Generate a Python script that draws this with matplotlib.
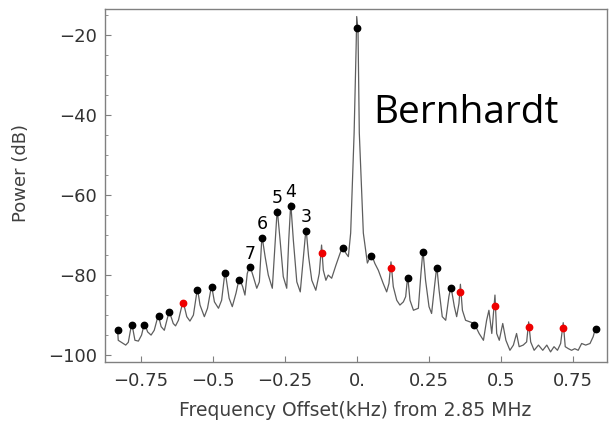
import numpy as np
import matplotlib.pyplot as plt
from matplotlib.ticker import FixedLocator, FixedFormatter, MultipleLocator

# spectrum trace: frequency offset (kHz) and power (dB)
freq = [-0.831, -0.829, -0.803, -0.794, -0.782, -0.771, -0.759, -0.748, -0.738, -0.727,
        -0.715, -0.704, -0.690, -0.680, -0.669, -0.652, -0.638, -0.630, -0.620, -0.604,
        -0.591, -0.580, -0.568, -0.554, -0.545, -0.530, -0.519, -0.505, -0.495, -0.481,
        -0.470, -0.458, -0.444, -0.433, -0.420, -0.409, -0.397, -0.389, -0.381, -0.372,
        -0.360, -0.348, -0.339, -0.330, -0.319, -0.308, -0.294, -0.285, -0.277, -0.267,
        -0.256, -0.244, -0.237, -0.230, -0.221, -0.209, -0.197, -0.188, -0.177, -0.168,
        -0.157, -0.143, -0.131, -0.123, -0.117, -0.108, -0.100, -0.088, -0.073, -0.059,
        -0.050, -0.038, -0.030, -0.022, -0.010, -0.003, -0.001, 0.0035, 0.008, 0.022,
        0.036, 0.050, 0.062, 0.074, 0.091, 0.103, 0.111, 0.118, 0.126, 0.138,
        0.149, 0.161, 0.169, 0.176, 0.184, 0.196, 0.213, 0.222, 0.229, 0.238,
        0.250, 0.259, 0.269, 0.277, 0.285, 0.296, 0.308, 0.319, 0.326, 0.338,
        0.346, 0.354, 0.359, 0.366, 0.377, 0.392, 0.407, 0.424, 0.439, 0.450,
        0.458, 0.468, 0.479, 0.485, 0.494, 0.506, 0.517, 0.531, 0.543, 0.554,
        0.563, 0.577, 0.589, 0.596, 0.603, 0.615, 0.630, 0.645, 0.659, 0.672,
        0.684, 0.696, 0.707, 0.716, 0.723, 0.734, 0.745, 0.756, 0.768, 0.780,
        0.794, 0.809, 0.820, 0.829]
power = [-93.8, -96.3, -97.5, -96.8, -92.0, -96.3, -96.5, -95.0, -92.0, -94.2,
         -95.0, -93.8, -90.0, -92.9, -93.8, -89.0, -92.1, -92.7, -91.3, -86.5,
         -90.4, -91.5, -90.0, -83.3, -87.5, -90.4, -88.3, -82.6, -86.7, -88.3,
         -86.3, -79.0, -85.8, -87.9, -84.5, -80.8, -82.9, -85.0, -79.6, -77.6,
         -80.4, -83.3, -81.7, -70.2, -75.4, -80.0, -83.3, -72.9, -63.5, -71.3,
         -80.4, -83.3, -71.3, -62.0, -71.3, -81.7, -84.2, -77.1, -68.3, -75.4,
         -81.3, -83.8, -79.6, -72.5, -78.8, -81.3, -80.0, -80.8, -77.5, -74.6,
         -73.0, -74.6, -75.4, -69.5, -44.5, -22.9, -15.4, -18.8, -44.5, -69.5,
         -77.0, -74.8, -77.1, -78.8, -82.1, -84.2, -82.1, -76.7, -82.9, -86.3,
         -87.5, -86.7, -85.4, -80.2, -86.3, -88.8, -88.3, -79.6, -73.8, -81.3,
         -87.9, -89.6, -82.9, -77.8, -83.8, -90.4, -91.3, -85.4, -82.8, -87.9,
         -90.4, -87.1, -82.3, -88.8, -91.3, -91.7, -92.1, -94.6, -96.3, -91.3,
         -88.8, -94.6, -85.0, -94.6, -96.3, -92.1, -96.3, -98.8, -97.5, -94.6,
         -97.9, -97.5, -96.7, -91.7, -96.7, -98.8, -97.5, -98.8, -97.5, -99.2,
         -97.9, -98.8, -97.1, -91.9, -97.9, -98.4, -98.8, -98.4, -98.8, -97.1,
         -97.5, -97.1, -95.4, -93.0]

# marked peaks
black_f = [-0.831, -0.782, -0.738, -0.689, -0.652, -0.554, -0.505, -0.458, -0.409, -0.371,
           -0.330, -0.278, -0.230, -0.177, -0.050, 0.000, 0.050, 0.176, 0.229, 0.277,
           0.326, 0.407, 0.829]
black_p = [-93.75, -92.4, -92.4, -90.3, -89.3, -83.8, -83.1, -79.6, -81.25, -78.1,
           -70.8, -64.2, -62.75, -68.9, -73.3, -18.3, -75.2, -80.7, -74.3, -78.2,
           -83.2, -92.5, -93.5]
red_f = [-0.604, -0.123, 0.118, 0.359, 0.479, 0.596, 0.716]
red_p = [-87.1, -74.4, -78.3, -84.3, -87.75, -92.9, -93.3]

# numbered sidebands
label_text = ['7', '6', '5', '4', '3']
label_f = [-0.371, -0.330, -0.278, -0.230, -0.177]
label_p = [-78.1, -70.8, -64.2, -62.75, -68.9]

xticks = [-0.75, -0.5, -0.25, 0.0, 0.25, 0.5, 0.75]
xticklabels = ['\u22120.75', '\u22120.5', '\u22120.25', '0.', '0.25', '0.5', '0.75']
yticks = [-100, -80, -60, -40, -20]

plt.rcParams['font.family'] = ['DejaVu Sans']

fig = plt.figure(figsize=(6.15, 4.25), dpi=100)
ax = fig.add_axes([0.1707, 0.148, 0.8163, 0.831])

ax.plot(freq, power, color='#5e5e5e', lw=0.9, zorder=2)
ax.plot(black_f, black_p, 'o', color='black', ms=4.6, zorder=3)
ax.plot(red_f, red_p, 'o', color='#ee0000', ms=4.6, zorder=3)

for t, f, p in zip(label_text, label_f, label_p):
    ax.annotate(t, (f, p), xytext=(0, 10), textcoords='offset points',
                ha='center', va='center', fontsize=12.5, color='black')

ax.text(0.056, -42, 'Bernhardt', fontsize=28, family='Open Sans',
        ha='left', va='baseline', color='black')

ax.set_xlim(-0.875, 0.868)
ax.set_ylim(-101.75, -13.5)

ax.xaxis.set_major_locator(FixedLocator(xticks))
ax.xaxis.set_major_formatter(FixedFormatter(xticklabels))
ax.yaxis.set_major_locator(FixedLocator(yticks))
ax.yaxis.set_major_formatter(FixedFormatter(['\u2212%d' % abs(v) for v in yticks]))
ax.yaxis.set_minor_locator(MultipleLocator(5))

for s in ax.spines.values():
    s.set_color('#808080')
    s.set_linewidth(1.0)
ax.tick_params(which='both', direction='in', color='#808080', labelcolor='#333333',
               labelsize=13)
ax.tick_params(axis='x', which='major', length=4, pad=7)
ax.tick_params(axis='y', which='major', length=4.5, pad=6)
ax.tick_params(axis='y', which='minor', length=2.5)

ax.set_xlabel('Frequency Offset(kHz) from 2.85 MHz', fontsize=13.5, color='#404040')
ax.set_ylabel('Power (dB)', fontsize=13, color='#404040')
ax.xaxis.set_label_coords(0.498, -0.11)
ax.yaxis.set_label_coords(-0.15, 0.535)

fig.savefig('out.png', dpi=100)
